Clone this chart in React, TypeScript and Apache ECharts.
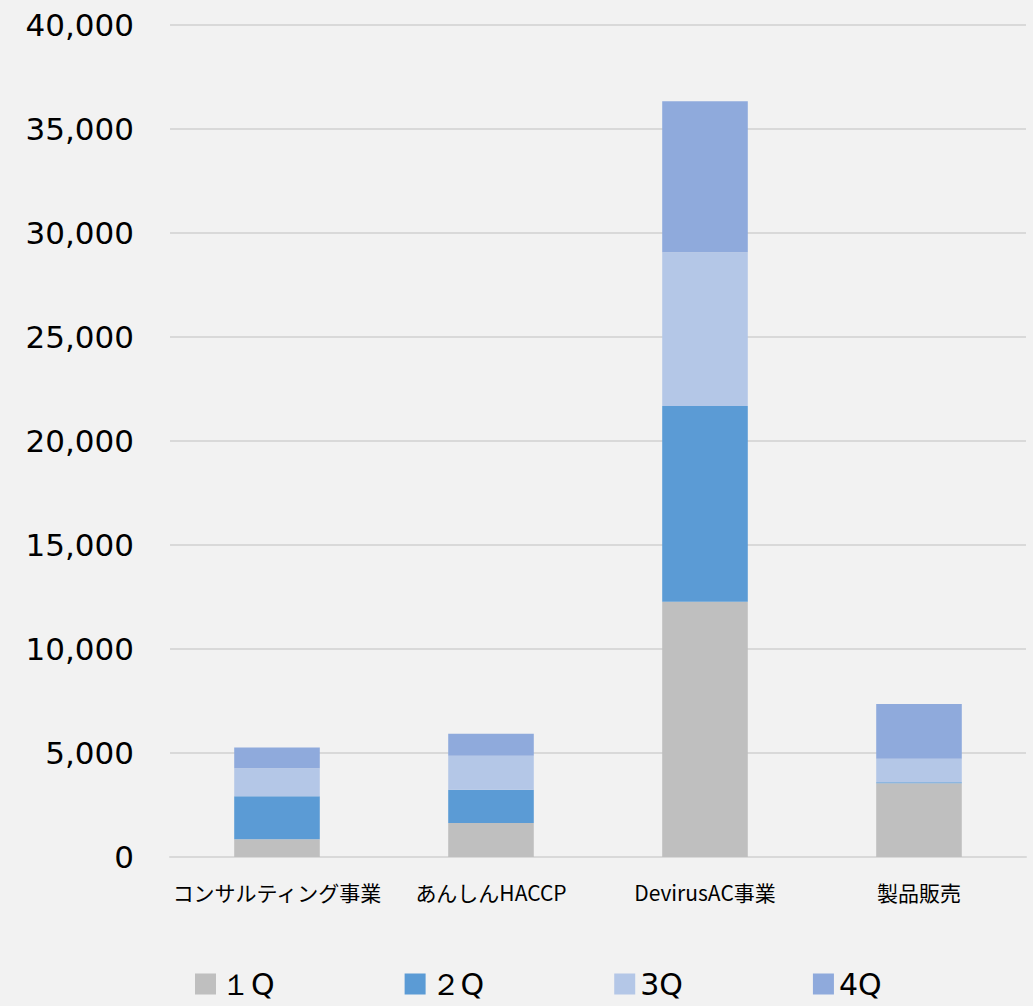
import React, { useEffect, useRef } from "react";
import * as echarts from "echarts";

const categories = ["コンサルティング事業", "あんしんHACCP", "DevirusAC事業", "製品販売"];
const seriesNames = ["１Q", "２Q", "3Q", "4Q"];
const q1 = [850, 1640, 12270, 3550];
const q2 = [2070, 1590, 9410, 40];
const q3 = [1350, 1640, 7400, 1130];
const q4 = [990, 1050, 7260, 2640];
const colors = ["#bfbfbf", "#5b9bd5", "#b4c7e7", "#8faadc"];
const yTicks = { min: 0, max: 40000, interval: 5000 };

export default function App() {
  const ref = useRef<HTMLDivElement>(null);
  useEffect(() => {
    if (!ref.current) return;
    const chart = echarts.init(ref.current, undefined, { renderer: "svg" });
    const values = [q1, q2, q3, q4];
    chart.setOption({
      animation: false,
      backgroundColor: "#f2f2f2",
      grid: { left: 170, right: 7, top: 25, bottom: 149, containLabel: false },
      legend: {
        bottom: 2,
        left: 190,
        itemWidth: 21,
        itemHeight: 21,
        itemGap: 130,
        icon: "rect",
        textStyle: { fontSize: 30, color: "#000", fontFamily: "DejaVu Sans" },
        data: seriesNames,
      },
      xAxis: {
        type: "category",
        data: categories,
        axisLine: { lineStyle: { color: "#d9d9d9", width: 2 } },
        axisTick: { show: false },
        axisLabel: {
          color: "#000",
          fontSize: 21,
          margin: 24,
          fontFamily: "Noto Sans CJK JP",
          interval: 0,
        },
      },
      yAxis: {
        type: "value",
        min: yTicks.min,
        max: yTicks.max,
        interval: yTicks.interval,
        axisLine: { show: false },
        axisTick: { show: false },
        splitLine: { lineStyle: { color: "#d9d9d9", width: 2 } },
        axisLabel: {
          color: "#000",
          fontSize: 31,
          margin: 36,
          padding: [0, 0, 8, 0],
          fontFamily: "DejaVu Sans",
          formatter: (v: number) => v.toLocaleString("en-US"),
        },
      },
      series: seriesNames.map((name, i) => ({
        name,
        type: "bar",
        stack: "total",
        barWidth: "40%",
        itemStyle: { color: colors[i] },
        data: values[i],
      })),
    });
    return () => chart.dispose();
  }, []);
  return <div ref={ref} style={{ width: 1033, height: 1006, position: "absolute", left: 0, top: 0 }} />;
}
